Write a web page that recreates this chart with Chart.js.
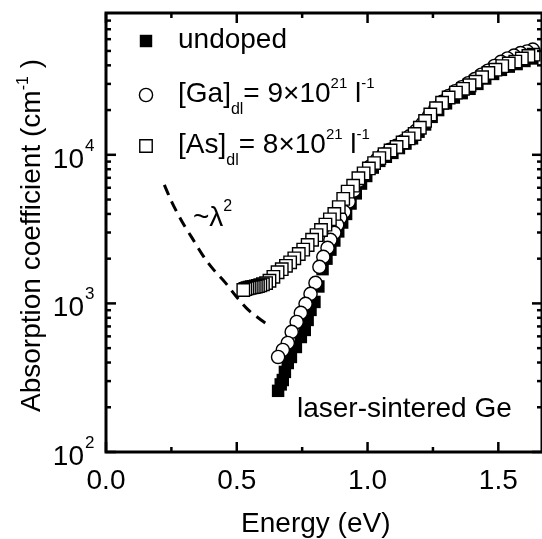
<!DOCTYPE html>
<html>
<head>
<meta charset="utf-8">
<script src="https://cdn.jsdelivr.net/npm/chart.js@4.4.0/dist/chart.umd.min.js"></script>
<style>
  html, body { margin: 0; padding: 0; background: #ffffff; }
  canvas { display: block; }
</style>
</head>
<body>
<canvas id="absorption" width="542" height="539"></canvas>
<script>
// Absorption spectra of laser-sintered Ge: undoped, Ga-doped and As-doped layers
const energyUndoped = [0.658,0.668,0.676,0.684,0.695,0.707,0.726,0.745,0.760,0.771,0.782,0.797,0.812,0.828,0.843,0.858,0.873,0.888,0.903,0.918,0.935,0.955,0.975,0.995,1.020,1.045,1.070,1.095,1.120,1.145,1.170,1.195,1.220,1.245,1.270,1.300,1.330,1.360,1.390,1.420,1.450,1.480,1.510,1.540,1.570,1.600,1.630];
const alphaUndoped  = [258,285,305,346,397,436,509,594,663,774,904,1023,1300,1700,2000,2300,2650,3050,3500,4000,4700,5500,6400,7200,8200,9100,9700,10300,11100,11900,12900,14300,16000,18000,20000,22200,24300,26000,27800,30000,32600,35000,37300,39200,40800,42800,44500];

const energyGa = [0.658,0.676,0.695,0.710,0.729,0.745,0.763,0.782,0.801,0.816,0.831,0.847,0.858,0.873,0.884,0.896,0.911,0.928,0.948,0.968,0.988,1.010,1.035,1.060,1.085,1.110,1.135,1.160,1.185,1.210,1.235,1.260,1.285,1.310,1.335,1.360,1.385,1.410,1.435,1.460,1.485,1.510,1.535,1.560,1.585,1.610,1.632];
const alphaGa  = [436,486,542,643,750,863,993,1159,1374,1762,2056,2364,2678,2985,3380,3767,4130,4850,5750,6700,7450,8350,9250,10050,10800,11500,12350,13300,14500,16200,18300,20500,22700,24900,26800,28500,30300,32300,34600,36800,39600,42200,44500,46500,48300,49600,51000];

const energyAs = [0.525,0.533,0.541,0.549,0.557,0.565,0.573,0.581,0.590,0.600,0.612,0.625,0.640,0.656,0.672,0.688,0.704,0.720,0.737,0.754,0.771,0.788,0.805,0.822,0.839,0.856,0.873,0.890,0.907,0.924,0.945,0.965,0.985,1.005,1.025,1.045,1.065,1.088,1.111,1.134,1.157,1.180,1.200,1.220,1.240,1.262,1.285,1.310,1.338,1.365,1.390,1.413,1.438,1.462,1.489,1.515,1.540,1.565,1.590,1.615,1.635];
const alphaAs  = [1230,1250,1265,1275,1285,1290,1300,1310,1325,1345,1370,1420,1510,1620,1700,1790,1890,2010,2150,2300,2470,2680,2880,3120,3390,3680,4000,4450,5050,5650,6200,6950,7500,8100,8800,9500,10100,10700,11300,12100,12900,13800,15200,16900,18700,20600,22400,24300,26200,27800,29400,31000,33300,35500,37400,39500,41200,42400,44500,46200,47200];

// free-carrier guide line (~lambda^2)
const energyGuide = [0.223,0.253,0.291,0.329,0.374,0.412,0.457,0.499,0.544,0.593,0.631];
const alphaGuide  = [6280,4750,3540,2760,2056,1682,1374,1107,904,774,695];

// axes
const xMajorTicks = [0, 0.5, 1.0, 1.5];
const xMinorTicks = [0.25, 0.75, 1.25];
const xTickLabels = ['0.0', '0.5', '1.0', '1.5'];
const yMajorTicks = [100, 1000, 10000];
const yTickExponents = ['2', '3', '4'];
const yMinorTicks = [200,300,400,500,600,700,800,900,2000,3000,4000,5000,6000,7000,8000,9000,20000,30000,40000,50000,60000,70000,80000];

const FONT_FAMILY = '"Liberation Sans", Arial, Helvetica, sans-serif';
const font = px => px + 'px ' + FONT_FAMILY;

const toPoints = (xs, ys) => xs.map((x, i) => ({ x: x, y: ys[i] }));
// spectra are plotted in scan order (short to long wavelength), so the
// low-energy end of each series lies on top
const scanOrder = (xs, ys) => toPoints(xs, ys).reverse();

const SQUARE_R = 8.8;
const CIRCLE_R = 6.6;
const MARK_BW = 1.4;

// draws a run of text pieces, some of them raised or lowered
function drawRich(ctx, parts, x, y) {
  let cx = x;
  for (const p of parts) {
    ctx.font = font(p.size || 28);
    ctx.fillText(p.t, cx, y + (p.dy || 0));
    cx += ctx.measureText(p.t).width;
  }
  return cx;
}

const framePlugin = {
  id: 'frameAndText',
  afterDraw(chart) {
    const ctx = chart.ctx;
    const xs = chart.scales.x, ys = chart.scales.y;
    const area = chart.chartArea;
    const L = area.left, R = area.right, T = area.top, B = area.bottom;

    ctx.save();
    ctx.strokeStyle = '#000';
    ctx.fillStyle = '#000';

    // frame
    ctx.lineWidth = 3;
    ctx.strokeRect(L, T, R - L, B - T);

    // inward ticks
    ctx.lineWidth = 2.5;
    const seg = (x1, y1, x2, y2) => { ctx.beginPath(); ctx.moveTo(x1, y1); ctx.lineTo(x2, y2); ctx.stroke(); };
    xMajorTicks.forEach(v => { const p = xs.getPixelForValue(v); seg(p, B, p, B - 10); seg(p, T, p, T + 10); });
    xMinorTicks.forEach(v => { const p = xs.getPixelForValue(v); seg(p, B, p, B - 5); seg(p, T, p, T + 5); });
    yMajorTicks.forEach(v => { const p = ys.getPixelForValue(v); seg(L, p, L + 10, p); seg(R, p, R - 10, p); });
    yMinorTicks.forEach(v => { const p = ys.getPixelForValue(v); seg(L, p, L + 5, p); seg(R, p, R - 5, p); });

    // tick labels
    ctx.textBaseline = 'alphabetic';
    ctx.font = font(28);
    ctx.textAlign = 'center';
    xMajorTicks.forEach((v, i) => ctx.fillText(xTickLabels[i], xs.getPixelForValue(v), 489));
    yMajorTicks.forEach((v, i) => {
      const p = ys.getPixelForValue(v);
      ctx.font = font(28);
      ctx.textAlign = 'right';
      ctx.fillText('10', 84, p + 13);
      ctx.font = font(17);
      ctx.textAlign = 'left';
      ctx.fillText(yTickExponents[i], 85, p - 4);
    });

    // axis titles
    ctx.textAlign = 'center';
    ctx.font = font(28);
    ctx.fillText('Energy (eV)', (xs.getPixelForValue(0) + xs.getPixelForValue(1.65)) / 2 - 6, 532);
    ctx.textAlign = 'left';
    ctx.save();
    ctx.translate(40, 412);
    ctx.rotate(-Math.PI / 2);
    drawRich(ctx, [
      { t: 'Absorption coefficient (cm' },
      { t: '-1', size: 16, dy: -12 },
      { t: ' )' }
    ], 0, 0);
    ctx.restore();

    // legend
    const H = Chart.helpers;
    const legendX = 146;
    ctx.lineWidth = MARK_BW;
    ctx.fillStyle = '#000';
    H.drawPoint(ctx, { pointStyle: 'rect', radius: SQUARE_R, borderWidth: 0, rotation: 0 }, legendX, 41);
    ctx.fillStyle = '#fff';
    H.drawPoint(ctx, { pointStyle: 'circle', radius: CIRCLE_R, borderWidth: MARK_BW, rotation: 0 }, legendX, 95);
    H.drawPoint(ctx, { pointStyle: 'rect', radius: SQUARE_R, borderWidth: MARK_BW, rotation: 0 }, legendX, 146);

    ctx.fillStyle = '#000';
    drawRich(ctx, [{ t: 'undoped' }], 178, 48);
    drawRich(ctx, [
      { t: '[Ga]' }, { t: 'dl', size: 16, dy: 12 }, { t: '= 9\u00d710' },
      { t: '21', size: 15, dy: -14 }, { t: ' l' }, { t: '-1', size: 15, dy: -14 }
    ], 178, 102);
    drawRich(ctx, [
      { t: '[As]' }, { t: 'dl', size: 16, dy: 12 }, { t: '= 8\u00d710' },
      { t: '21', size: 15, dy: -14 }, { t: ' l' }, { t: '-1', size: 15, dy: -14 }
    ], 178, 153);

    // annotations
    drawRich(ctx, [{ t: '~\u03bb' }, { t: '2', size: 16, dy: -15 }], 193, 226);
    drawRich(ctx, [{ t: 'laser-sintered Ge' }], 297, 417);

    ctx.restore();
  }
};

new Chart(document.getElementById('absorption'), {
  type: 'scatter',
  data: {
    datasets: [
      {
        label: '[As]dl = 8x10^21 l^-1',
        data: scanOrder(energyAs, alphaAs),
        pointStyle: 'rect',
        pointRadius: SQUARE_R,
        backgroundColor: '#ffffff',
        borderColor: '#000000',
        borderWidth: MARK_BW,
        showLine: false,
        clip: false,
        order: 1
      },
      {
        label: '[Ga]dl = 9x10^21 l^-1',
        data: scanOrder(energyGa, alphaGa),
        pointStyle: 'circle',
        pointRadius: CIRCLE_R,
        backgroundColor: '#ffffff',
        borderColor: '#000000',
        borderWidth: MARK_BW,
        showLine: false,
        clip: false,
        order: 2
      },
      {
        label: 'undoped',
        data: scanOrder(energyUndoped, alphaUndoped),
        pointStyle: 'rect',
        pointRadius: SQUARE_R,
        backgroundColor: '#000000',
        borderColor: '#000000',
        borderWidth: 0,
        showLine: false,
        clip: false,
        order: 3
      },
      {
        label: '~lambda^2',
        type: 'line',
        data: toPoints(energyGuide, alphaGuide),
        borderColor: '#000000',
        borderWidth: 3,
        borderDash: [11, 7],
        pointRadius: 0,
        fill: false,
        tension: 0.3,
        clip: false,
        order: 4
      }
    ]
  },
  options: {
    responsive: false,
    animation: false,
    devicePixelRatio: 1,
    layout: { autoPadding: false, padding: { left: 106, top: 13, right: -5, bottom: 87 } },
    plugins: { legend: { display: false }, tooltip: { enabled: false } },
    scales: {
      x: { type: 'linear', min: 0, max: 1.667, display: false },
      y: { type: 'logarithmic', min: 100, max: 90000, display: false }
    }
  },
  plugins: [framePlugin]
});
</script>
</body>
</html>
